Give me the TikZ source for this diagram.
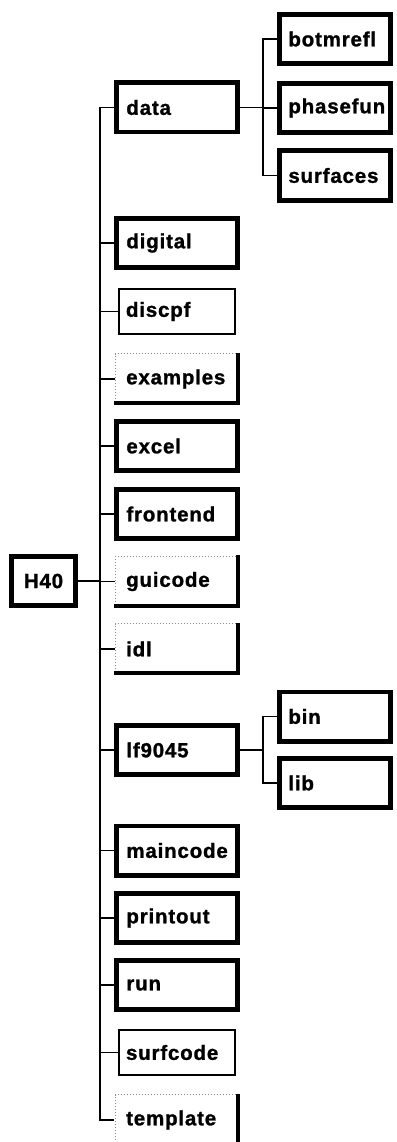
\documentclass[tikz,border=0pt]{standalone}
\usepackage{fontspec}
\setmainfont{Liberation Sans}
\newfontfamily\lblfont[LetterSpace=4,FakeBold=1.2]{Liberation Sans}
\begin{document}
\begin{tikzpicture}[x=1pt,y=-1pt,
  lbl/.style={font=\lblfont\bfseries\fontsize{20.5}{24}\selectfont, inner ysep=0pt},
  bbox/.style={lbl, draw, line width=4.8pt, minimum height=49.2pt, inner xsep=10pt, text width=#1, align=left},
  tbox/.style={lbl, draw, line width=1.8pt, minimum height=45.2pt, inner xsep=7.1pt, text width=102pt, align=left},
  sbox/.style={lbl, minimum height=52pt, inner xsep=12pt, text width=102pt, align=left},
  dotedge/.style={draw=black!45, line width=1pt, dotted},
  shedge/.style={draw=black, line width=4pt},
  conn/.style={line width=1.3pt, line cap=rect}
]
\clip (0,0) rectangle (396,1142);
\fill[white] (0,0) rectangle (396,1142);

% root
\node[bbox=44.5pt, align=center] (H40) at (43.5,581) {H40};

% main children (left edge 114, width 126)
\node[bbox=101.2pt, anchor=west] (data)     at (114,107.5) {data};
\node[bbox=101.2pt, anchor=west] (digital)  at (114,243)   {digital};
\node[tbox, anchor=west]         (discpf)   at (118,311.5) {discpf};
\node[sbox, anchor=west]         (examples) at (114,379)   {examples};
\node[bbox=101.2pt, anchor=west] (excel)    at (114,446)   {excel};
\node[bbox=101.2pt, anchor=west] (frontend) at (114,514)   {frontend};
\node[sbox, anchor=west]         (guicode)  at (114,581.5) {guicode};
\node[sbox, anchor=west]         (idl)      at (114,649)   {idl};
\node[bbox=101.2pt, anchor=west] (lf9045)   at (114,750)   {lf9045};
\node[bbox=101.2pt, anchor=west] (maincode) at (114,850.5) {maincode};
\node[bbox=101.2pt, anchor=west] (printout) at (114,918)   {printout};
\node[bbox=101.2pt, anchor=west] (run)      at (114,985)   {run};
\node[tbox, anchor=west]         (surfcode) at (118,1052.5){surfcode};
\node[sbox, anchor=west]         (template) at (114,1120)  {template};

% grandchildren (left edge 277, width 116)
\node[bbox=93.2pt, inner xsep=9pt, anchor=west] (botmrefl) at (277,39)    {botmrefl};
\node[bbox=93.2pt, inner xsep=9pt, anchor=west] (phasefun) at (277,108)   {phasefun};
\node[bbox=93.2pt, inner xsep=9pt, anchor=west] (surfaces) at (277,175.5) {surfaces};
\node[bbox=93.2pt, inner xsep=9pt, anchor=west] (bin)      at (277,716.5) {bin};
\node[bbox=93.2pt, inner xsep=9pt, anchor=west] (lib)      at (277,783)   {lib};

% shadowed boxes: faint dotted top/left, heavy right/bottom
\foreach \n in {examples,guicode,idl,template}{
  \draw[dotedge] ([xshift=1pt]\n.south west) -- ([xshift=1pt,yshift=-1pt]\n.north west) -- ([xshift=-3pt,yshift=-1pt]\n.north east);
  \draw[shedge] ([xshift=-2pt]\n.north east) -- ([xshift=-2pt,yshift=2pt]\n.south east) -- ([yshift=2pt]\n.south west);
}

% trunk
\coordinate (tr) at (100,0);
\coordinate (st) at (263,0);
\draw[conn] (H40.east) -- (H40.east -| tr);
\draw[conn, line cap=butt] (data.west) -- (data.west -| tr) -- (template.west -| tr) -- (template.west);
\foreach \n in {digital,discpf,examples,excel,frontend,guicode,idl,lf9045,maincode,printout,run,surfcode}{
  \draw[conn] (\n.west) -- (\n.west -| tr);
}
% data subtree
\draw[conn] (data.east) -- (data.east -| st);
\draw[conn, line cap=butt] (botmrefl.west) -- (botmrefl.west -| st) -- (surfaces.west -| st) -- (surfaces.west);
\draw[conn] (phasefun.west) -- (phasefun.west -| st);
% lf9045 subtree
\draw[conn] (lf9045.east) -- (lf9045.east -| st);
\draw[conn, line cap=butt] (bin.west) -- (bin.west -| st) -- (lib.west -| st) -- (lib.west);
\end{tikzpicture}
\end{document}
